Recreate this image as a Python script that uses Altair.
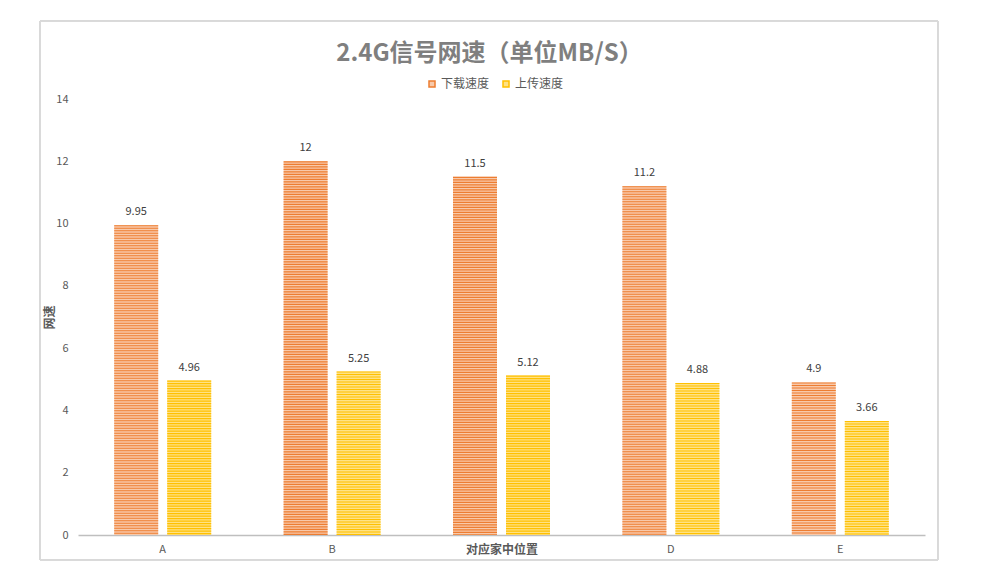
import altair as alt
import pandas as pd

categories = ["A", "B", "C", "D", "E"]
download = [9.95, 12, 11.5, 11.2, 4.9]
upload = [4.96, 5.25, 5.12, 4.88, 3.66]
series = ["下载速度", "上传速度"]

rows = []
for c, d, u in zip(categories, download, upload):
    rows.append({"位置": c, "系列": series[0], "网速": d})
    rows.append({"位置": c, "系列": series[1], "网速": u})
df = pd.DataFrame(rows)

FONT = "Noto Sans CJK SC"
W, H = 847, 436

legend = alt.Legend(title=None, orient="none", direction="horizontal",
                    legendX=348, legendY=-21, symbolType="square",
                    symbolSize=36, symbolStrokeWidth=1.5, labelFontSize=12,
                    labelColor="#595959", labelFont=FONT, columnPadding=10,
                    symbolOffset=0, labelOffset=3)

x_enc = alt.X("位置:N", sort=categories,
              scale=alt.Scale(paddingInner=0, paddingOuter=0),
              axis=alt.Axis(title="对应家中位置", labelAngle=0, labelFontSize=11,
                            labelColor="#595959", labelPadding=8, ticks=False,
                            domainColor="#BFBFBF", domainWidth=1.5,
                            labelExpr="datum.value == 'C' ? '' : datum.value",
                            titleFontSize=12, titleFontWeight="bold", titleColor="#595959",
                            titleY=21, titleBaseline="bottom", labelFont=FONT, titleFont=FONT))
xo_enc = alt.XOffset("系列:N", sort=series,
                     scale=alt.Scale(paddingInner=0.17, paddingOuter=0.683))
y_scale = alt.Scale(domain=[0, 14])

bars = alt.Chart(df).mark_bar().encode(
    x=x_enc,
    xOffset=xo_enc,
    y=alt.Y("网速:Q", scale=y_scale,
            axis=alt.Axis(title="网速", values=[0, 2, 4, 6, 8, 10, 12, 14], grid=False,
                          domain=False, ticks=False, labelFontSize=11, labelColor="#595959",
                          labelPadding=10, titleFontSize=12, titleFontWeight="bold",
                          titleColor="#595959", titleX=-29, titleY=H / 2,
                          titleAlign="center", titleBaseline="middle",
                          labelFont=FONT, titleFont=FONT)),
    fill=alt.Fill("系列:N", sort=series,
                  scale=alt.Scale(domain=series, range=["#F8C9AA", "#FFE285"]),
                  legend=legend),
)

stripes = alt.Chart(df).mark_rule(strokeWidth=44, strokeDash=[1.1, 1.4], strokeCap="butt").encode(
    x=alt.X("位置:N", sort=categories),
    xOffset=alt.XOffset("系列:N", sort=series),
    y=alt.Y("网速:Q", scale=y_scale),
    y2=alt.datum(0),
    stroke=alt.Stroke("系列:N", sort=series,
                      scale=alt.Scale(domain=series, range=["#ED7D31", "#FFC000"]),
                      legend=legend),
)

labels = alt.Chart(df).mark_text(baseline="bottom", dy=-8, fontSize=11, color="#404040",
                                 font=FONT).encode(
    x=alt.X("位置:N", sort=categories),
    xOffset=alt.XOffset("系列:N", sort=series),
    y=alt.Y("网速:Q", scale=y_scale),
    text=alt.Text("网速:Q"),
)

frame = alt.Chart(df).mark_rect(fill=None, stroke="#D9D9D9", strokeWidth=1).encode(
    x=alt.value(-38), x2=alt.value(W + 13), y=alt.value(-78), y2=alt.value(H + 25)
)

chart = alt.layer(frame, bars, stripes, labels).properties(
    width=W, height=H,
    title=alt.Title("2.4G信号网速（单位MB/S）", fontSize=24, fontWeight="bold",
                    color="#7F7F7F", font=FONT, anchor="middle", dx=-12, offset=-45),
    autosize=alt.AutoSizeParams(type="none"),
    padding={"left": 70, "top": 91, "right": 50, "bottom": 30},
).configure_view(strokeWidth=0)

chart.save("out.html", embed_options={"renderer": "svg", "actions": False})
